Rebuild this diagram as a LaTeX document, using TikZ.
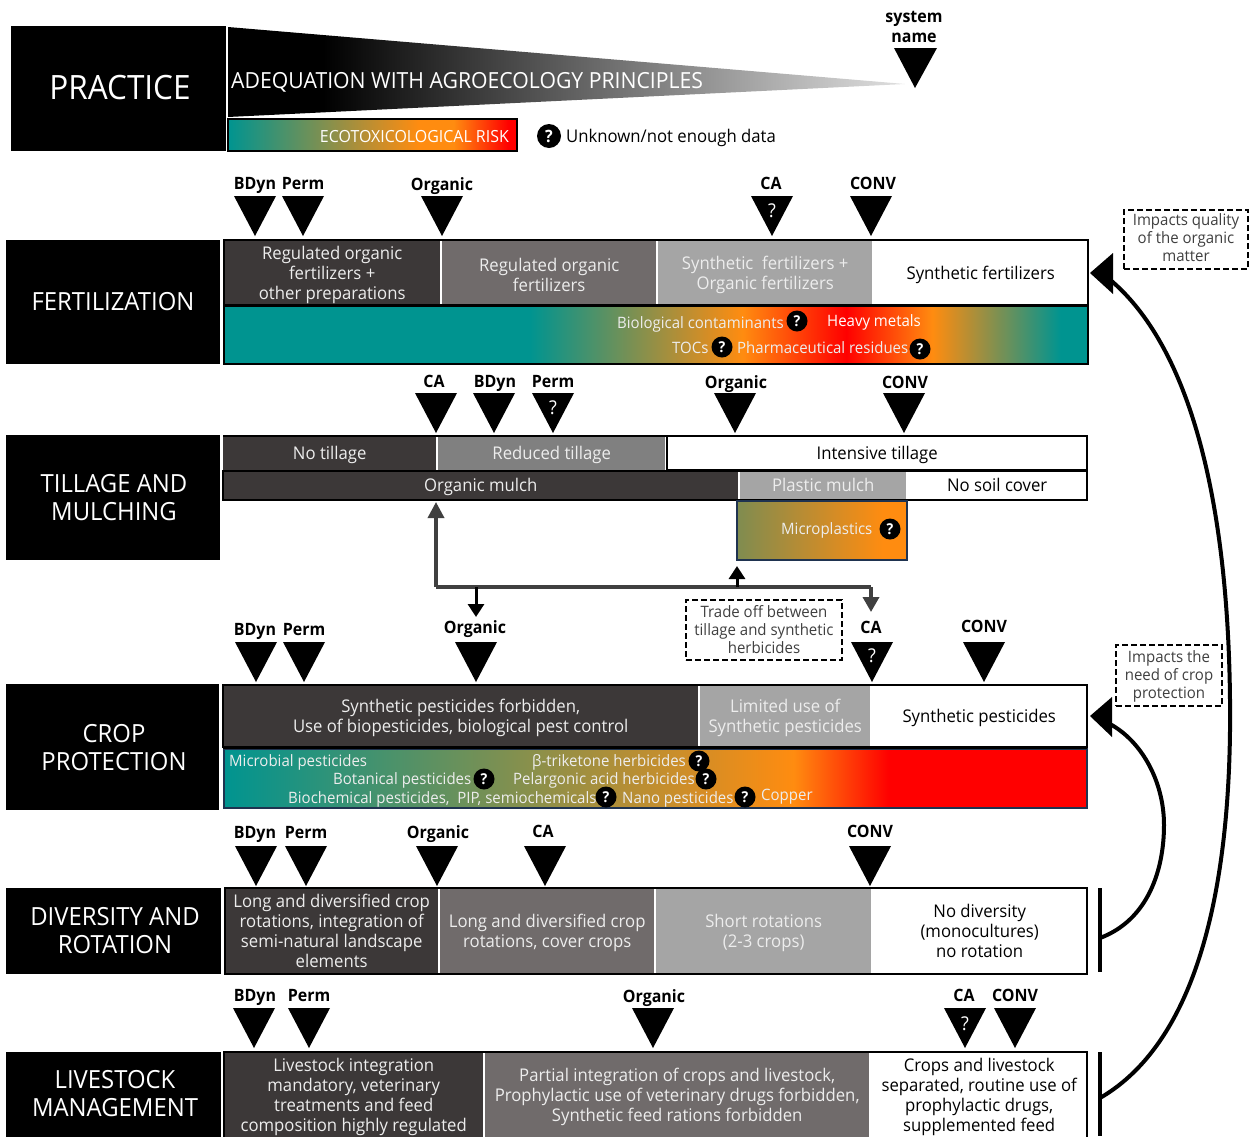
\documentclass[tikz,border=0pt]{standalone}
\usepackage{fontspec}
\setmainfont{Open Sans}[FakeStretch=0.955]
\newfontfamily\semib{Open Sans}[FakeStretch=0.94]
\usetikzlibrary{arrows.meta,calc}
\definecolor{cdark}{HTML}{3C3838}
\definecolor{cmid}{HTML}{706B6B}
\definecolor{cgray}{HTML}{A5A5A5}
\definecolor{cgrayb}{HTML}{808080}
\definecolor{cteal}{HTML}{009490}
\definecolor{colive}{HTML}{7F8C50}
\definecolor{corange}{HTML}{FF8C10}
\definecolor{cred}{HTML}{FF0000}
\definecolor{cnavy}{HTML}{1F3350}
\definecolor{carrow}{HTML}{404040}
\definecolor{cwhitet}{HTML}{EDEDED}
\pgfdeclarehorizontalshading{wedgeshade}{100bp}{color(0bp)=(black); color(25bp)=(black); color(32bp)=(black); color(75bp)=(white!88!black); color(100bp)=(white)}
\pgfdeclarehorizontalshading{riskshade}{100bp}{color(0bp)=(cteal); color(25bp)=(cteal); color(58bp)=(corange); color(64bp)=(corange); color(73.5bp)=(cred); color(100bp)=(cred)}
\pgfdeclarehorizontalshading{fertshade}{100bp}{color(0bp)=(cteal); color(42.7bp)=(cteal); color(55bp)=(corange); color(61bp)=(cred); color(66bp)=(corange); color(73.4bp)=(cteal); color(100bp)=(cteal)}
\pgfdeclarehorizontalshading{cropshade}{100bp}{color(0bp)=(cteal); color(25bp)=(cteal); color(58bp)=(corange); color(63.5bp)=(cred); color(100bp)=(cred)}
\pgfdeclarehorizontalshading{microshade}{100bp}{color(0bp)=(colive); color(25bp)=(colive); color(68bp)=(corange); color(100bp)=(corange)}
\tikzset{
  x=1pt,y=-1pt,
  body/.style={font=\fontsize{17.5}{20}\selectfont,align=center,inner sep=0pt,yshift=-2pt},
  cellfill/.style={inner sep=0pt,anchor=north west},
  head/.style={font=\fontsize{25}{28}\selectfont,align=center,text=white,inner sep=0pt},
  lab/.style={font=\semib\bfseries\fontsize{17}{20}\selectfont,text=black,inner sep=0pt,text height=12pt,text depth=4pt,yshift=-2pt},
  rsk/.style={font=\fontsize{15.7}{18}\selectfont,text=cwhitet,inner sep=0pt,anchor=west,text height=11pt,text depth=4pt,yshift=-2pt},
  note/.style={draw=black,line width=2pt,dash pattern=on 6pt off 3pt,inner sep=0pt,fill=white},
  notetext/.style={font=\fontsize{15.7}{18}\selectfont,text=carrow,align=center,inner sep=0pt,yshift=-1pt},
  qdot/.style={circle,fill=black,text=white,inner sep=0pt,minimum size=21pt,font=\semib\bfseries\fontsize{15}{15}\selectfont},
  frame/.style={draw=black,line width=2.5pt},
  trade/.style={draw=carrow,line width=3.5pt},
  curve/.style={draw=black,line width=4pt},
}
% \cellbox{name}{x1}{y1}{x2}{y2}{fill}{text colour}{text}
\newcommand{\cellbox}[8]{%
  \node[cellfill,fill=#6,minimum width=#4pt-#2pt,minimum height=#5pt-#3pt] (#1) at (#2,#3) {};
  \node[body,text=#7] (#1t) at (#1.center) {#8};}
\newcommand{\headbox}[5]{% name x1 y1 x2 y2
  \node[cellfill,fill=black,minimum width=#4pt-#2pt,minimum height=#5pt-#3pt] (#1) at (#2,#3) {};}
% \mk{name}{x}{tipy}{labelx}{labely}{label}
\newcommand{\mk}[6]{%
  \fill[black] (#2-21,#3-40) -- (#2+21,#3-40) -- (#2,#3) -- cycle;
  \node[lab] (#1) at (#4,#5) {#6};}
\newcommand{\qmark}[3]{\node[text=white,font=\fontsize{19}{19}\selectfont,inner sep=0pt] (#1) at (#2,#3) {?};}
\newcommand{\qd}[3]{\node[qdot] (#1) at (#2,#3) {?};}
\begin{document}
\begin{tikzpicture}
\clip (0,0) rectangle (1251,1136);
\useasboundingbox (0,0) rectangle (1251,1136);

% practice / legend
\headbox{hpractice}{11}{26}{226}{151}
\node[head,font=\semib\fontsize{33.5}{34}\selectfont] (tpractice) at (120,88) {PRACTICE};
\shade[shading=wedgeshade] (228,27) -- (905,84) -- (228,117) -- cycle;
\node[font=\fontsize{22.2}{24}\selectfont,text=white,anchor=west,inner sep=0pt] (adeq) at (231,82) {ADEQUATION WITH AGROECOLOGY PRINCIPLES};
\shade[shading=riskshade] (228,119) rectangle (517,151);
\draw[frame] (228,119) rectangle (517,151);
\node[font=\fontsize{16.7}{18}\selectfont,text=white,anchor=east,inner sep=0pt] (ecorisk) at (509,137) {ECOTOXICOLOGICAL RISK};
\node[qdot,minimum size=24pt,font=\semib\bfseries\fontsize{17}{17}\selectfont] (legq) at (549,136) {?};
\node[font=\fontsize{17.5}{20}\selectfont,anchor=west,inner sep=0pt,yshift=-2pt] (legt) at (566,136) {Unknown/not enough data};
\fill[black] (894,48) -- (937,48) -- (915,88) -- cycle;
\node[font=\semib\bfseries\fontsize{17}{19.5}\selectfont,align=center,inner sep=0pt] (sysname) at (914,27) {system\\name};

% fertilization
\headbox{hfert}{6}{240}{220}{364}
\node[head] (tfert) at (113,302) {FERTILIZATION};
\cellbox{f1}{224}{240}{440}{305}{cdark}{cwhitet}{Regulated organic\\fertilizers +\\other preparations}
\cellbox{f2}{442}{240}{656}{305}{cmid}{cwhitet}{Regulated organic\\fertilizers}
\cellbox{f3}{658}{240}{872}{305}{cgray}{cwhitet}{Synthetic\ \ fertilizers +\\Organic fertilizers}
\cellbox{f4}{873}{240}{1088}{305}{white}{black}{Synthetic fertilizers}
\draw[frame] (224,240) rectangle (1088,305);
\shade[shading=fertshade] (224,307) rectangle (1088,364);
\draw[frame] (224,306) rectangle (1088,364);
\node[rsk] (fr1) at (617,323) {Biological contaminants};
\qd{fq1}{797}{321}
\node[rsk,text=white] (fr2) at (827,321) {Heavy metals};
\node[rsk] (fr3) at (672,348) {TOCs};
\qd{fq2}{722}{347}
\node[rsk] (fr4) at (737,348) {Pharmaceutical residues};
\qd{fq3}{920}{349}
\mk{fb}{255}{236}{255}{183}{BDyn}
\mk{fp}{303}{236}{303}{183}{Perm}
\mk{fo}{442}{236}{442}{184}{Organic}
\mk{fc}{772}{236}{771}{183}{CA}
\qmark{fcq}{772}{211}
\mk{fv}{871}{236}{873}{183}{CONV}

% tillage
\headbox{htill}{6}{435}{220}{560}
\node[head] (ttill) at (114,498) {TILLAGE AND\\MULCHING};
\cellbox{t1}{223}{436}{436}{470}{cdark}{cwhitet}{No tillage}
\cellbox{t2}{438}{436}{665}{470}{cgrayb}{cwhitet}{Reduced tillage}
\cellbox{t3}{667}{436}{1087}{470}{white}{black}{Intensive tillage}
\draw[frame] (667,436) rectangle (1087,470);
\draw[black,line width=2.5pt] (223,436) -- (667,436);
\cellbox{t4}{223}{471}{738}{499}{cdark}{cwhitet}{Organic mulch\vphantom{g}}
\cellbox{t5}{740}{471}{906}{499}{cgray}{cwhitet}{Plastic mulch\vphantom{g}}
\cellbox{t6}{907}{471}{1087}{499}{white}{black}{No soil cover\vphantom{g}}
\draw[frame] (223,471) rectangle (1087,500);
\shade[shading=microshade] (737,501) rectangle (907,560);
\draw[cnavy,line width=2pt] (737,501) rectangle (907,560);
\node[rsk] (mp) at (781,529) {Microplastics};
\qd{mpq}{890}{529}
\mk{tc}{436}{433}{434}{381}{CA}
\mk{tb}{494}{433}{495}{381}{BDyn}
\mk{tp}{553}{433}{553}{381}{Perm}
\qmark{tpq}{553}{408}
\mk{to}{735}{433}{736}{382}{Organic}
\mk{tv}{904}{433}{905}{382}{CONV}

% trade-off connectors
\coordinate (jl) at (436,587);
\coordinate (jo) at (476,587);
\coordinate (jm) at (737,587);
\coordinate (jr) at (871,587);
\coordinate (orgup) at (436,502);
\coordinate (orgdn) at (476,617);
\coordinate (micup) at (737,566);
\coordinate (cadn) at (871,612);
\draw[trade,-{Triangle[length=16pt,width=16pt]}] (jl) -- (orgup);
\draw[trade] (jl) -- (jr);
\draw[trade,-{Triangle[length=15pt,width=16pt]}] (jr) -- (cadn);
\draw[draw=black,line width=3pt,-{Triangle[length=13pt,width=16pt]}] (jo) -- (orgdn);
\draw[draw=black,line width=3pt,-{Triangle[length=13pt,width=16pt]}] (jm) -- (micup);
\node[note,minimum width=156pt,minimum height=60pt] (ntrade) at (764,630) {};
\node[notetext] (ntradet) at (ntrade.center) {Trade off between\\tillage and synthetic\\herbicides\vphantom{g}};

% crop protection
\headbox{hcrop}{6}{684}{219}{810}
\node[head] (tcrop) at (114,748) {CROP\\PROTECTION};
\cellbox{c1}{223}{685}{698}{747}{cdark}{cwhitet}{Synthetic pesticides forbidden,\\Use of biopesticides, biological pest control}
\cellbox{c2}{700}{685}{870}{747}{cgray}{cwhitet}{Limited use of\\Synthetic pesticides}
\cellbox{c3}{871}{685}{1087}{747}{white}{black}{Synthetic pesticides}
\draw[frame] (223,685) rectangle (1087,747);
\shade[shading=cropshade] (224,750) rectangle (1087,808);
\draw[cnavy,line width=2pt] (224,749) rectangle (1087,808);
\draw[black,line width=2pt] (223,748) -- (1087,748);
\node[rsk] (cr1) at (229,761) {Microbial pesticides};
\node[rsk] (cr2) at (532,761) {β-triketone herbicides};
\qd{cq1}{699}{761}
\node[rsk] (cr3) at (333,779) {Botanical pesticides};
\qd{cq2}{484}{779}
\node[rsk] (cr4) at (513,779) {Pelargonic acid herbicides};
\qd{cq3}{706}{779}
\node[rsk] (cr5) at (288,798) {Biochemical pesticides,\ \ PIP, semiochemicals};
\qd{cq4}{606}{797}
\node[rsk] (cr6) at (622,798) {Nano pesticides};
\qd{cq5}{745}{797}
\node[rsk] (cr7) at (761,795) {Copper};
\mk{cb}{256}{682}{255}{629}{BDyn}
\mk{cp}{304}{682}{304}{629}{Perm}
\mk{co}{476}{682}{475}{627}{Organic}
\mk{cc}{872}{682}{871}{627}{CA}
\qmark{ccq}{872}{656}
\mk{cv}{984}{682}{984}{626}{CONV}

% diversity
\headbox{hdiv}{6}{888}{221}{974}
\node[head] (tdiv) at (115,931) {DIVERSITY AND\\ROTATION};
\cellbox{d1}{225}{888}{438}{974}{cdark}{cwhitet}{Long and diversified crop\\rotations, integration of\\semi-natural landscape\\elements\vphantom{g}}
\cellbox{d2}{440}{888}{654}{974}{cmid}{cwhitet}{Long and diversified crop\\rotations, cover crops}
\cellbox{d3}{656}{888}{871}{974}{cgray}{cwhitet}{Short rotations\\(2-3 crops)}
\cellbox{d4}{872}{888}{1087}{974}{white}{black}{No diversity\\(monocultures)\\no rotation\vphantom{g}}
\draw[frame] (225,888) rectangle (1087,974);
\mk{db}{256}{886}{255}{832}{BDyn}
\mk{dp}{306}{886}{306}{832}{Perm}
\mk{do}{437}{886}{438}{832}{Organic}
\mk{dc}{545}{886}{543}{831}{CA}
\mk{dv}{870}{886}{870}{831}{CONV}

% livestock
\headbox{hlive}{6}{1052}{221}{1138}
\node[head] (tlive) at (115,1094) {LIVESTOCK\\MANAGEMENT};
\cellbox{l1}{224}{1052}{483}{1138}{cdark}{cwhitet}{Livestock integration\\mandatory, veterinary\\treatments and feed\\composition highly regulated}
\cellbox{l2}{485}{1052}{869}{1138}{cmid}{cwhitet}{Partial integration of crops and livestock,\\Prophylactic use of veterinary drugs forbidden,\\Synthetic feed rations forbidden}
\cellbox{l3}{871}{1052}{1087}{1138}{white}{black}{Crops and livestock\\separated, routine use of\\prophylactic drugs,\\supplemented feed\vphantom{g}}
\draw[frame] (224,1052) rectangle (1087,1140);
\mk{lb}{254}{1048}{255}{995}{BDyn}
\mk{lp}{309}{1048}{309}{995}{Perm}
\mk{lo}{653}{1048}{654}{996}{Organic}
\mk{lc}{965}{1048}{964}{995}{CA}
\qmark{lcq}{965}{1024}
\mk{lv}{1015}{1048}{1015}{995}{CONV}

% right-hand feedback curves
\coordinate (barda) at (1100,888);
\coordinate (bardb) at (1100,972);
\coordinate (barla) at (1100,1052);
\coordinate (barlb) at (1100,1136);
\draw[black,line width=4pt] (barda) -- (bardb);
\draw[black,line width=4pt] (barla) -- (barlb);
\coordinate (cs1) at (1100,938);
\coordinate (ce1) at (1106,722);
\coordinate (cs2) at (1100,1098);
\coordinate (ce2) at (1108,278);
\draw[curve] (cs1) .. controls (1148,920) and (1164,870) .. (1164,825) .. controls (1164,780) and (1140,738) .. (ce1);
\draw[curve] (cs2) .. controls (1200,1040) and (1232,880) .. (1230,700) .. controls (1228,500) and (1190,345) .. (ce2);
\fill[black] (1090,716) -- (1112,697) -- (1112,737) -- cycle;
\fill[black] (1090,273) -- (1113,253) -- (1113,294) -- cycle;
\node[note,minimum width=124pt,minimum height=59pt] (nqual) at (1186,239.5) {};
\node[notetext,yshift=1pt] (nqualt) at (nqual.center) {Impacts quality\\of the organic\\matter\vphantom{g}};
\node[note,minimum width=106pt,minimum height=61pt] (nneed) at (1169,675.5) {};
\node[notetext] (nneedt) at (nneed.center) {Impacts the\\need of crop\\protection};
\end{tikzpicture}
\end{document}
